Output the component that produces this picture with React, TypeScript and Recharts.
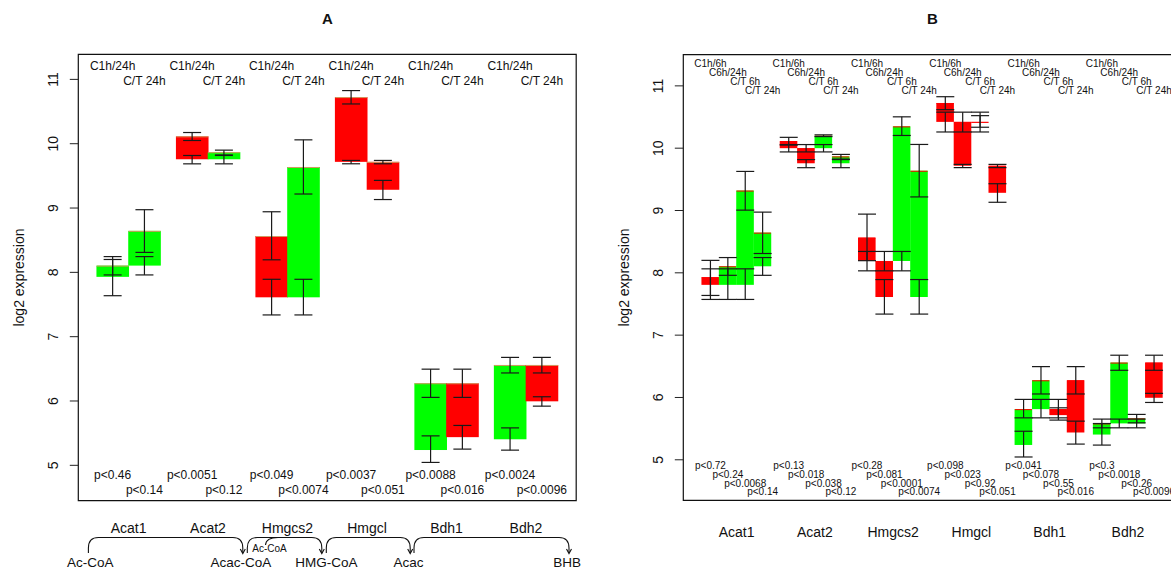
import React from 'react';
import { ComposedChart, Bar, Scatter, ErrorBar, XAxis, YAxis, ReferenceArea } from 'recharts';

const genes = ['Acat1', 'Acat2', 'Hmgcs2', 'Hmgcl', 'Bdh1', 'Bdh2'];

// mean log2 expression: control at 1h / 6h / 24h, treated at 6h / 24h
const c1h = [7.93, 10.115, 8.565, 10.725, 5.238, 5.405];
const c6h = [7.807, 10.0, 8.19, 10.422, 5.813, 5.584];
const c24h = [8.105, 9.758, 7.612, 9.718, 6.276, 6.56];
const t6h = [9.32, 10.2, 10.35, 10.415, 5.717, 5.664];
const t24h = [8.645, 9.868, 9.638, 9.284, 5.438, 5.995];

// error bar ends [low, high]
const c1hErr = [[7.637, 8.2], [10.05, 10.174], [8.195, 8.942], [10.618, 10.826], [5.045, 5.458], [5.236, 5.582]];
const c6hErr = [[7.573, 8.064], [9.94, 10.058], [8.032, 8.343], [10.26, 10.578], [5.673, 5.969], [5.513, 5.653]];
const c24hErr = [[7.96, 8.245], [9.687, 9.817], [7.338, 7.892], [9.688, 9.74], [6.056, 6.495], [6.436, 6.678]];
const t6hErr = [[9.006, 9.627], [10.186, 10.214], [10.204, 10.503], [10.336, 10.522], [5.637, 5.834], [5.593, 5.728]];
const t24hErr = [[8.31, 8.974], [9.825, 9.9], [9.218, 10.06], [9.132, 9.43], [5.252, 5.62], [5.92, 6.066]];

// p-values per comparison
const pC1h24h = ['p<0.46', 'p<0.0051', 'p<0.049', 'p<0.0037', 'p<0.0088', 'p<0.0024'];
const pC1h6h = ['p<0.72', 'p<0.13', 'p<0.28', 'p<0.098', 'p<0.041', 'p<0.3'];
const pC6h24h = ['p<0.24', 'p<0.018', 'p<0.081', 'p<0.023', 'p<0.078', 'p<0.0018'];
const pCT6h = ['p<0.0068', 'p<0.038', 'p<0.0001', 'p<0.92', 'p<0.55', 'p<0.26'];
const pCT24h = ['p<0.14', 'p<0.12', 'p<0.0074', 'p<0.051', 'p<0.016', 'p<0.0096'];

const yTicks = [5, 6, 7, 8, 9, 10, 11];

const GREEN = '#00ff00';
const RED = '#ff0000';
const FONT = '"Liberation Sans", Arial, Helvetica, sans-serif';

type Comparison = {
  label: string;
  from: number[];
  fromErr: number[][];
  to: number[];
  toErr: number[][];
  p: string[];
};

const compsA: Comparison[] = [
  { label: 'C1h/24h', from: c1h, fromErr: c1hErr, to: c24h, toErr: c24hErr, p: pC1h24h },
  { label: 'C/T 24h', from: c24h, fromErr: c24hErr, to: t24h, toErr: t24hErr, p: pCT24h },
];

const compsB: Comparison[] = [
  { label: 'C1h/6h', from: c1h, fromErr: c1hErr, to: c6h, toErr: c6hErr, p: pC1h6h },
  { label: 'C6h/24h', from: c6h, fromErr: c6hErr, to: c24h, toErr: c24hErr, p: pC6h24h },
  { label: 'C/T 6h', from: c6h, fromErr: c6hErr, to: t6h, toErr: t6hErr, p: pCT6h },
  { label: 'C/T 24h', from: c24h, fromErr: c24hErr, to: t24h, toErr: t24hErr, p: pCT24h },
];

// one floating bar per comparison, from the first mean to the second
const buildRows = (comps: Comparison[], period: number) => {
  const rows: any[] = [];
  genes.forEach((_, g) => {
    comps.forEach((c, i) => {
      const a = c.from[g];
      const b = c.to[g];
      rows.push({
        pos: period * g + 1 + i,
        range: [Math.min(a, b), Math.max(a, b)],
        up: b > a,
        startMean: a,
        startErr: [a - c.fromErr[g][0], c.fromErr[g][1] - a],
        endMean: b,
        endErr: [b - c.toErr[g][0], c.toErr[g][1] - b],
      });
    });
  });
  return rows;
};

const makeBarShape = (topColor: string) => (props: any) => {
  const { x, y, width, height, payload } = props;
  if (x == null || y == null) return <g />;
  return (
    <g>
      <rect x={x - 0.3} y={y} width={width + 0.6} height={Math.max(height, 0.6)} fill={payload.up ? GREEN : RED} />
      <line x1={x} x2={x + width} y1={y + 0.5} y2={y + 0.5} stroke={topColor} strokeWidth={1} />
    </g>
  );
};

const emptyShape = () => <g />;

const makeTextShape = (fontSize: number) => (props: any) => (
  <text x={props.cx} y={props.cy} dy="0.35em" textAnchor="middle" fontSize={fontSize} fill="#111">
    {props.payload.text}
  </text>
);

interface PanelProps {
  comps: Comparison[];
  period: number;
  xDomain: [number, number];
  yDomain: [number, number];
  top: number;
  bottom: number;
  topRowY: number;
  topStep: number;
  pRowY: number;
  pStep: number;
  labelSize: number;
  topLine: string;
  geneMargin: number;
}

const Panel: React.FC<PanelProps> = ({
  comps, period, xDomain, yDomain, top, bottom, topRowY, topStep, pRowY, pStep, labelSize, topLine, geneMargin,
}) => {
  const n = comps.length;
  const rows = buildRows(comps, period);
  const topLabels = rows.map((r, k) => ({ pos: r.pos, y: topRowY - (k % n) * topStep, text: comps[k % n].label }));
  const pLabels = rows.map((r, k) => ({ pos: r.pos, y: pRowY - (k % n) * pStep, text: comps[k % n].p[Math.floor(k / n)] }));
  const centers = genes.map((_, g) => period * g + 0.5 + n / 2);

  return (
    <ComposedChart
      width={605}
      height={571}
      data={rows}
      margin={{ top, right: 28.8, bottom: 571 - bottom - 40, left: 0 }}
      barCategoryGap={0}
    >
      <XAxis
        dataKey="pos"
        type="number"
        domain={xDomain}
        allowDataOverflow
        ticks={centers}
        interval={0}
        height={40}
        axisLine={false}
        tickLine={false}
        tickSize={0}
        tickMargin={geneMargin}
        tick={(p: any) => (
          <text x={p.x} y={p.y} dy="0.35em" textAnchor="middle" fontSize={14} fill="#111">
            {genes[centers.indexOf(p.payload.value)]}
          </text>
        )}
      />
      <YAxis
        type="number"
        domain={yDomain}
        allowDataOverflow
        ticks={yTicks}
        interval={0}
        width={78.3}
        axisLine={false}
        tickSize={8.5}
        tickMargin={17.1}
        tickLine={{ stroke: '#222' }}
        tick={(p: any) => (
          <text
            x={p.x}
            y={p.y}
            dy="0.35em"
            textAnchor="middle"
            fontSize={14}
            fill="#111"
            transform={`rotate(-90 ${p.x} ${p.y})`}
          >
            {p.payload.value}
          </text>
        )}
        label={{
          value: 'log2 expression',
          angle: -90,
          position: 'insideLeft',
          offset: 19,
          fontSize: 14,
          fill: '#111',
          style: { textAnchor: 'middle' },
        }}
      />
      <Bar dataKey="range" isAnimationActive={false} shape={makeBarShape(topLine)} />
      <Scatter dataKey="startMean" shape={emptyShape} isAnimationActive={false}>
        <ErrorBar dataKey="startErr" direction="y" width={9} stroke="#1a1a1a" strokeWidth={1.2} isAnimationActive={false} />
      </Scatter>
      <Scatter dataKey="endMean" shape={emptyShape} isAnimationActive={false}>
        <ErrorBar dataKey="endErr" direction="y" width={9} stroke="#1a1a1a" strokeWidth={1.2} isAnimationActive={false} />
      </Scatter>
      <Scatter data={topLabels} dataKey="y" shape={makeTextShape(labelSize)} isAnimationActive={false} />
      <Scatter data={pLabels} dataKey="y" shape={makeTextShape(labelSize)} isAnimationActive={false} />
      <ReferenceArea
        x1={xDomain[0]}
        x2={xDomain[1]}
        y1={yDomain[0]}
        y2={yDomain[1]}
        fill="none"
        stroke="#111"
        strokeWidth={1.2}
        ifOverflow="visible"
      />
    </ComposedChart>
  );
};

// pathway sketch under panel A
const metabolites = [
  { name: 'Ac-CoA', x: 90.3 },
  { name: 'Acac-CoA', x: 240.9 },
  { name: 'HMG-CoA', x: 326.3 },
  { name: 'Acac', x: 408.4 },
  { name: 'BHB', x: 567.2 },
];
const arcs = [
  [88.4, 242.8],
  [247.3, 321.8],
  [326.3, 410.2],
  [414, 569],
];

const arcPath = (x1: number, x2: number) =>
  `M ${x1} 553 L ${x1} 548 Q ${x1} 537.5 ${x1 + 10} 537.5 L ${x2 - 10} 537.5 Q ${x2} 537.5 ${x2} 548 L ${x2} 553`;

const Pathway = () => (
  <svg width={1171} height={571} style={{ position: 'absolute', left: 0, top: 0, pointerEvents: 'none' }}>
    <text x={327.3} y={19} dy="0.35em" textAnchor="middle" fontSize={15} fontWeight="bold" fill="#111">A</text>
    <text x={932.5} y={19} dy="0.35em" textAnchor="middle" fontSize={15} fontWeight="bold" fill="#111">B</text>
    {arcs.map(([a, b]) => (
      <g key={a} fill="none" stroke="#111" strokeWidth={1.1}>
        <path d={arcPath(a, b)} />
        <path d={`M ${b - 2.5} 549 L ${b} 553.5 L ${b + 2.5} 549`} />
      </g>
    ))}
    <path d="M 265.5 545 Q 266 537.5 278 537.5" fill="none" stroke="#111" strokeWidth={1.1} />
    <text x={269.5} y={548.7} dy="0.35em" textAnchor="middle" fontSize={10} fill="#111">Ac-CoA</text>
    {metabolites.map((m) => (
      <text key={m.name} x={m.x} y={562.3} dy="0.35em" textAnchor="middle" fontSize={13.5} fill="#111">
        {m.name}
      </text>
    ))}
  </svg>
);

export default function App() {
  return (
    <div
      style={{
        position: 'fixed',
        left: 0,
        top: 0,
        width: 1171,
        height: 571,
        overflow: 'hidden',
        background: '#fff',
        fontFamily: FONT,
      }}
    >
      <div style={{ position: 'absolute', left: 0, top: 0 }}>
        <Panel
          comps={compsA}
          period={2.5}
          xDomain={[-0.08, 15.58]}
          yDomain={[4.45, 11.39]}
          top={54.3}
          bottom={500.7}
          topRowY={11.213}
          topStep={0.238}
          pRowY={4.85}
          pStep={0.233}
          labelSize={12}
          topLine="#d09a60"
          geneMargin={27.6}
        />
      </div>
      <div style={{ position: 'absolute', left: 605.4, top: 0 }}>
        <Panel
          comps={compsB}
          period={4.5}
          xDomain={[-0.56, 28.06]}
          yDomain={[4.35, 11.5]}
          top={54.7}
          bottom={500.3}
          topRowY={11.353}
          topStep={0.14}
          pRowY={4.907}
          pStep={0.14}
          labelSize={10}
          topLine={RED}
          geneMargin={31.4}
        />
      </div>
      <Pathway />
    </div>
  );
}
